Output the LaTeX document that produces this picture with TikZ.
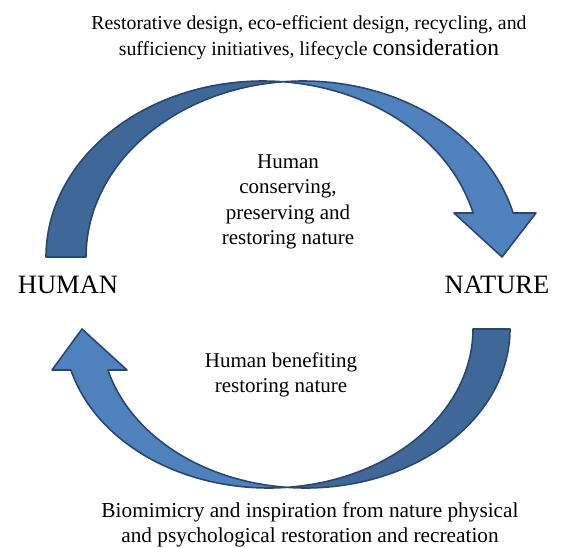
\documentclass[tikz,border=0pt]{standalone}
\usepackage{fontspec}
\setmainfont{Liberation Serif}
\usepackage{tikz}
\definecolor{arrowblue}{RGB}{79,129,189}
\definecolor{arrowdark}{RGB}{63,103,152}
\definecolor{arrowline}{RGB}{42,72,110}

\begin{document}
\begin{tikzpicture}[x=1pt, y=-1pt,
        bandlight/.style={fill=arrowblue, draw=arrowline, line width=1.6pt, line join=round},
        banddark/.style={fill=arrowdark, draw=arrowline, line width=1.6pt, line join=round},
        txt/.style={align=center, inner sep=0pt, font=\fontsize{21}{25.5}\selectfont},
        bigtxt/.style={inner sep=0pt, font=\fontsize{26.5}{30}\selectfont}]
    \useasboundingbox (0,0) rectangle (563,547);

    % Upper arrow: back half (darker) and front half with head
    \draw[banddark] plot[domain=180:84.7, samples=60] ({263+217*cos(\x)}, {257-176*sin(\x)})
        -- plot[domain=95.3:180, samples=60] ({303+217*cos(\x)}, {257-176*sin(\x)}) -- cycle;
    \draw[bandlight] plot[domain=95.3:14.48, samples=60] ({303+217*cos(\x)}, {257-176*sin(\x)})
        -- (536,213) -- (502,257) -- (454,213)
        -- plot[domain=14.48:84.7, samples=60] ({263+217*cos(\x)}, {257-176*sin(\x)}) -- cycle;

    % Lower arrow
    \draw[banddark] plot[domain=0:95.2, samples=60] ({305.5+204.5*cos(\x)}, {329+159*sin(\x)})
        -- plot[domain=84.8:0, samples=60] ({268.5+204.5*cos(\x)}, {329+159*sin(\x)}) -- cycle;
    \draw[bandlight] plot[domain=84.8:165.06, samples=60] ({268.5+204.5*cos(\x)}, {329+159*sin(\x)})
        -- (52,370) -- (82,329) -- (127,370)
        -- plot[domain=165.06:95.2, samples=60] ({305.5+204.5*cos(\x)}, {329+159*sin(\x)}) -- cycle;

    % Labels
    \node[txt, font=\fontsize{19.8}{26}\selectfont] (design) at (309,38)
        {Restorative design, eco-efficient design, recycling, and\\
         sufficiency initiatives, lifecycle {\fontsize{23.5}{26}\selectfont consideration}};
    \node[bigtxt] (human) at (68,285) {HUMAN};
    \node[bigtxt] (nature) at (497,285) {NATURE};
    \node[txt] (conserving) at (288,202) {Human\\ conserving,\\ preserving and\\ restoring nature};
    \node[txt] (benefiting) at (281,375) {Human benefiting\\ restoring nature};
    \node[txt, font=\fontsize{21.3}{25}\selectfont] (biomimicry) at (310,525)
        {Biomimicry and inspiration from nature physical\\
         and psychological restoration and recreation};
\end{tikzpicture}
\end{document}
